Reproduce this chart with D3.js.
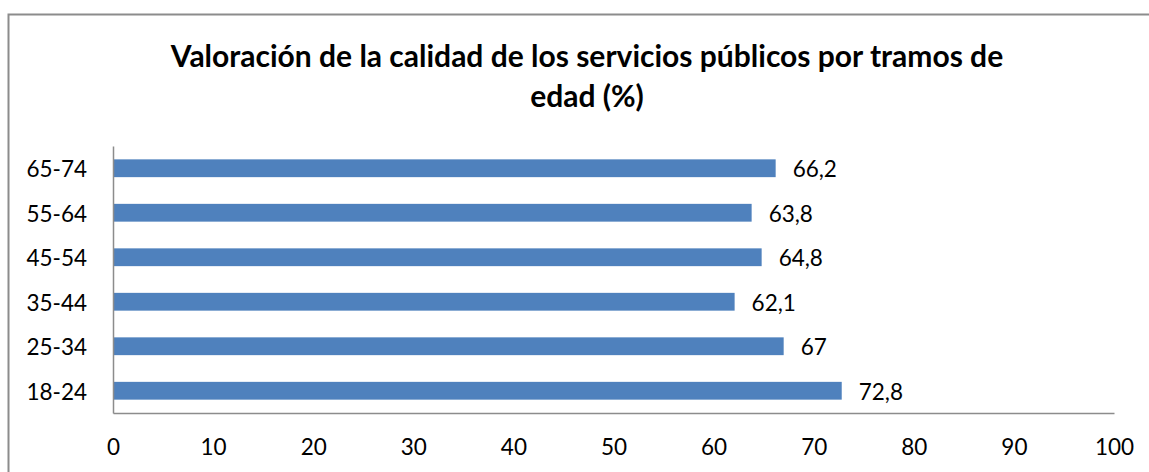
<!DOCTYPE html>
<html>
<head>
<meta charset="utf-8">
<script src="https://cdn.jsdelivr.net/npm/d3@7"></script>
<style>
  body { margin: 0; background: #fff; }
  text { font-family: Lato, "Open Sans", sans-serif; fill: #000; }
</style>
</head>
<body>
<svg width="1149" height="472"></svg>
<script>
// Data
const categories = ["18-24", "25-34", "35-44", "45-54", "55-64", "65-74"];
const values = [72.8, 67, 62.1, 64.8, 63.8, 66.2];
const xTicks = [0, 10, 20, 30, 40, 50, 60, 70, 80, 90, 100];
const titleLines = ["Valoración de la calidad de los servicios públicos por tramos de", "edad (%)"];

const svg = d3.select("svg");

// chart border (only top/left visible in the picture)
svg.append("rect")
  .attr("x", 8.5).attr("y", 14.5)
  .attr("width", 1200).attr("height", 500)
  .attr("fill", "none")
  .attr("stroke", "#8c8c8c")
  .attr("stroke-width", 2);

// title
svg.append("g")
  .selectAll("text")
  .data(titleLines)
  .enter()
  .append("text")
  .attr("x", 587)
  .attr("y", (d, i) => 67 + i * 40)
  .attr("text-anchor", "middle")
  .style("font-size", "30px")
  .style("font-weight", "bold")
  .text((d) => d);

const x = d3.scaleLinear().domain([0, 100]).range([113, 1114]);
const y = d3.scaleBand()
  .domain(categories.slice().reverse())
  .range([146, 413])
  .paddingInner(0.6)
  .paddingOuter(0.3);

// bars
svg.append("g")
  .selectAll(".bar")
  .data(categories.map((c, i) => ({ cat: c, val: values[i] })))
  .enter()
  .append("rect")
  .attr("class", "bar")
  .attr("x", x(0))
  .attr("y", (d) => y(d.cat))
  .attr("width", (d) => x(d.val) - x(0))
  .attr("height", y.bandwidth())
  .attr("fill", "#4f81bd");

// value labels
svg.append("g")
  .selectAll(".lbl")
  .data(categories.map((c, i) => ({ cat: c, val: values[i] })))
  .enter()
  .append("text")
  .attr("x", (d) => x(d.val) + 17)
  .attr("y", (d) => y(d.cat) + y.bandwidth() / 2)
  .attr("dy", "0.4em")
  .style("font-size", "22.5px")
  .text((d) => String(d.val).replace(".", ","));

// x axis
const xAxis = svg.append("g")
  .attr("transform", "translate(0,413)")
  .call(d3.axisBottom(x).tickValues(xTicks).tickSize(0).tickPadding(26));
xAxis.select(".domain").attr("stroke", "#8c8c8c").attr("stroke-width", 1.5);
xAxis.selectAll("text").style("font-size", "22.5px").style("font-family", "Lato, sans-serif");

// y axis
const yAxis = svg.append("g")
  .attr("transform", "translate(113,0)")
  .call(d3.axisLeft(y).tickSize(0).tickPadding(26));
yAxis.select(".domain").attr("stroke", "#8c8c8c").attr("stroke-width", 1.5);
yAxis.selectAll("text").style("font-size", "22.5px").style("font-family", "Lato, sans-serif")
  .attr("dy", "0.4em");
</script>
</body>
</html>
